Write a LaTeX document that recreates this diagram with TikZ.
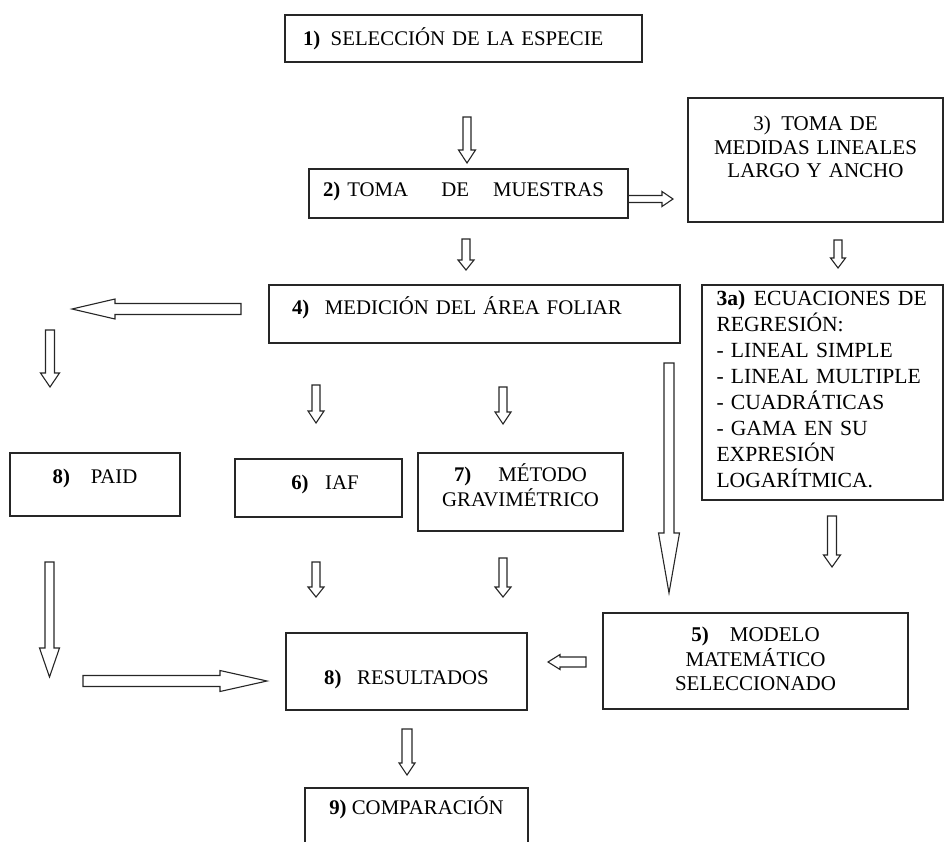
\documentclass[tikz,border=0pt]{standalone}
\usepackage{fontspec}
\setmainfont{Liberation Serif}
\usetikzlibrary{calc}

\begin{document}
\begin{tikzpicture}[x=1pt,y=-1pt,
  box/.style={draw=black!85, line width=1.4pt, inner sep=0pt, font=\fontsize{20.8}{24.5}\selectfont, text height=13.6pt, text depth=0pt},
  fat/.style n args={3}{draw=black!85, line width=1.1pt, line join=miter, to path={let \p1=(\tikztostart), \p2=(\tikztotarget), \n1={veclen(\x2-\x1,\y2-\y1)}, \n2={(\x2-\x1)/\n1}, \n3={(\y2-\y1)/\n1}, \n4={\n1-#3} in ({\x1-\n3*#1},{\y1+\n2*#1}) -- ({\x1+\n2*\n4-\n3*#1},{\y1+\n3*\n4+\n2*#1}) -- ({\x1+\n2*\n4-\n3*#2},{\y1+\n3*\n4+\n2*#2}) -- (\p2) -- ({\x1+\n2*\n4+\n3*#2},{\y1+\n3*\n4-\n2*#2}) -- ({\x1+\n2*\n4+\n3*#1},{\y1+\n3*\n4-\n2*#1}) -- ({\x1+\n3*#1},{\y1-\n2*#1}) -- cycle}}]
\useasboundingbox (0,0) rectangle (944,841);
\node[box, minimum width=357pt, minimum height=47pt, text width=321pt, align=left] (especie) at (463.5,38.5) {\textbf{1)}\hspace{0.5em}SELECCIÓN DE LA ESPECIE};
\node[box, minimum width=319pt, minimum height=49pt, text width=291pt, align=left, text depth=7pt] (muestras) at (468.5,193.5) {\textbf{2)} TOMA\hspace{1.6em}DE\hspace{1.15em}MUESTRAS};
\node[box, minimum width=255pt, minimum height=124pt, text width=240pt, align=center, font=\fontsize{21}{23.5}\selectfont, text height=13.8pt, text depth=72pt] (medidas) at (815.5,160) {3)\hspace{0.5em}TOMA DE\\MEDIDAS LINEALES\\LARGO Y ANCHO};
\node[box, minimum width=241pt, minimum height=215pt, text width=212pt, align=left, font=\fontsize{21.6}{26}\selectfont, text height=14.2pt, text depth=189pt] (ecuaciones) at (822.5,392.5) {\textbf{3a)}\hspace{0.4em}ECUACIONES DE\\REGRESIÓN:\\- LINEAL SIMPLE\\- LINEAL MULTIPLE\\- CUADRÁTICAS\\- GAMA EN SU\\EXPRESIÓN\\LOGARÍTMICA.};
\node[box, minimum width=411pt, minimum height=58pt, text width=365pt, align=left, text depth=12pt] (area) at (474.5,314) {\textbf{4)}\hspace{0.75em}MEDICIÓN DEL ÁREA FOLIAR};
\node[box, minimum width=170pt, minimum height=63pt, align=center, text depth=15pt] (paid) at (95,484.5) {\textbf{8)}\hspace{1em}PAID};
\node[box, minimum width=167pt, minimum height=58pt, align=center, text depth=10pt] (iaf) at (318.5,488) {\hspace*{13pt}\textbf{6)}\hspace{0.8em}IAF};
\node[box, minimum width=205pt, minimum height=78pt, text width=195pt, align=center, font=\fontsize{20.8}{25}\selectfont, text depth=34pt] (grav) at (520.5,492) {\textbf{7)}\hspace{1.3em}MÉTODO\\GRAVIMÉTRICO};
\node[box, minimum width=305pt, minimum height=96pt, text width=290pt, align=center, font=\fontsize{21}{24.5}\selectfont, text height=13.8pt, text depth=52pt] (modelo) at (755.5,661) {\textbf{5)}\hspace{1em}MODELO\\MATEMÁTICO\\SELECCIONADO};
\node[box, minimum width=241pt, minimum height=77pt, align=center, text height=26.6pt] (result) at (406.5,671.5) {\textbf{8)}\hspace{0.75em}RESULTADOS};
\node[box, minimum width=223pt, minimum height=72pt, align=center, text depth=32pt] (compar) at (416.5,824) {\textbf{9)} COMPARACIÓN};
\coordinate (t1) at (467,117); \coordinate (t2) at (467,163);
\coordinate (u1) at (466,239); \coordinate (u2) at (466,270);
\coordinate (r1) at (628,199); \coordinate (r2) at (673,199);
\coordinate (v1) at (838,240); \coordinate (v2) at (838,268);
\coordinate (l1) at (241,309); \coordinate (l2) at (72,309);
\coordinate (p1) at (50,330); \coordinate (p2) at (50,387);
\coordinate (i1) at (316,385); \coordinate (i2) at (316,423);
\coordinate (g1) at (503,387); \coordinate (g2) at (503,424);
\coordinate (m1) at (669,363); \coordinate (m2) at (669,593);
\coordinate (e1) at (832,516); \coordinate (e2) at (832,567);
\coordinate (d1) at (49.5,562); \coordinate (d2) at (49.5,677);
\coordinate (h1) at (83,681); \coordinate (h2) at (267,681);
\coordinate (j1) at (316,562); \coordinate (j2) at (316,597);
\coordinate (k1) at (503,558); \coordinate (k2) at (503,597);
\coordinate (q1) at (586,662); \coordinate (q2) at (548,662);
\coordinate (c1) at (407,729); \coordinate (c2) at (407,775);
\draw[fat={4}{8.5}{13}] (t1) to (t2);
\draw[fat={4}{8}{10}] (u1) to (u2);
\draw[fat={3.5}{7.5}{11}] (r1) to (r2);
\draw[fat={4}{7.5}{10}] (v1) to (v2);
\draw[fat={5.5}{10}{43}] (l1) to (l2);
\draw[fat={4.5}{9.5}{14}] (p1) to (p2);
\draw[fat={4}{8}{12}] (i1) to (i2);
\draw[fat={4}{8}{12}] (g1) to (g2);
\draw[fat={5}{10.5}{60}] (m1) to (m2);
\draw[fat={4.5}{8.5}{12}] (e1) to (e2);
\draw[fat={4.5}{10}{29}] (d1) to (d2);
\draw[fat={5.5}{10.5}{47}] (h1) to (h2);
\draw[fat={4}{8}{10}] (j1) to (j2);
\draw[fat={4}{8}{10}] (k1) to (k2);
\draw[fat={5}{7.5}{12}] (q1) to (q2);
\draw[fat={5}{8}{12}] (c1) to (c2);
\end{tikzpicture}
\end{document}
